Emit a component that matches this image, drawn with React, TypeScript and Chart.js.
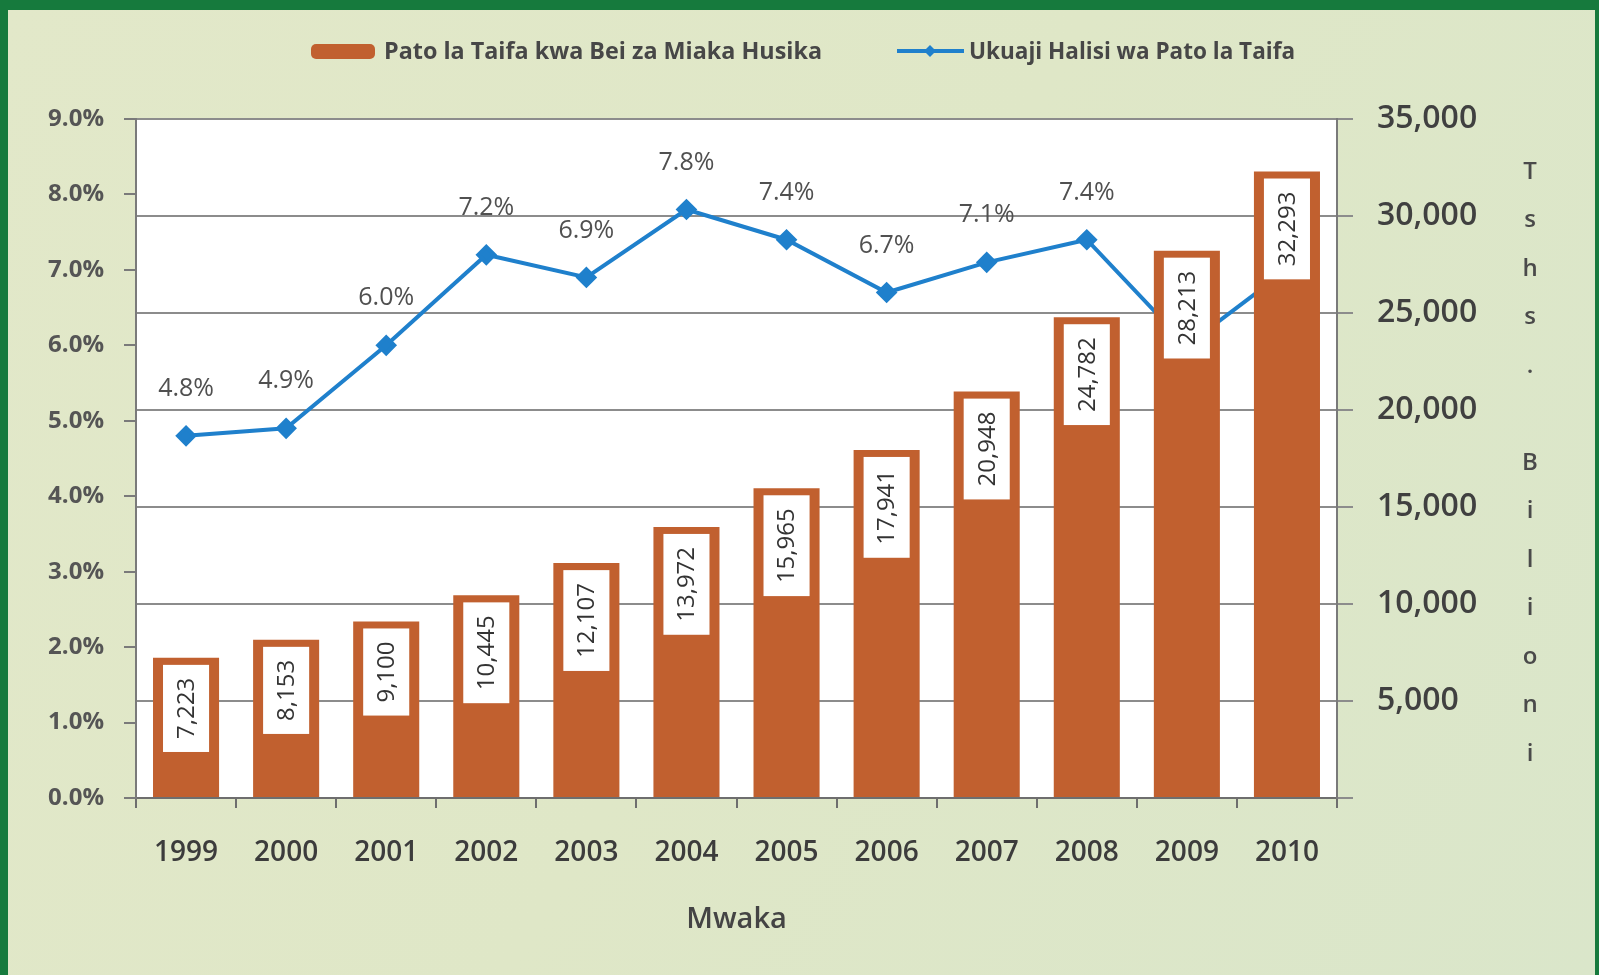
import React, { useEffect, useRef } from "react";
import { Chart, registerables } from "chart.js";

Chart.register(...registerables);

const years = ["1999", "2000", "2001", "2002", "2003", "2004", "2005", "2006", "2007", "2008", "2009", "2010"];
const gdpCurrentPrices = [7223, 8153, 9100, 10445, 12107, 13972, 15965, 17941, 20948, 24782, 28213, 32293];
const realGrowth = [4.8, 4.9, 6.0, 7.2, 6.9, 7.8, 7.4, 6.7, 7.1, 7.4, 6.0, 7.0];
const growthLabelVisible = [true, true, true, true, true, true, true, true, true, true, false, false];
const leftAxisMax = 9;
const leftAxisStep = 1;
const rightAxisMax = 35000;
const rightAxisStep = 5000;
const barSeriesName = "Pato la Taifa kwa Bei za Miaka Husika";
const lineSeriesName = "Ukuaji Halisi wa Pato la Taifa";
const xAxisTitle = "Mwaka";
const rightAxisTitle = "Tshs. Bilioni";

const FONT = '"Open Sans", "Noto Sans", sans-serif';
const BAR_COLOR = "#c1602f";
const LINE_COLOR = "#1f80cc";
const TEXT = "#474747";

const backgroundPlugin = {
  id: "bgPlugin",
  beforeDraw(chart: any) {
    const { ctx, width, height, chartArea } = chart;
    ctx.save();
    const g = ctx.createLinearGradient(0, 0, width, height);
    g.addColorStop(0, "#e2e8c9");
    g.addColorStop(0.5, "#dfe7c7");
    g.addColorStop(1, "#dae6ca");
    ctx.fillStyle = g;
    ctx.fillRect(0, 0, width, height);
    ctx.fillStyle = "#167a3d";
    ctx.fillRect(0, 0, width, 10);
    ctx.fillRect(0, 0, 8, height);
    ctx.fillRect(width - 4, 0, 4, height);
    ctx.fillStyle = "#ffffff";
    ctx.fillRect(chartArea.left, chartArea.top, chartArea.right - chartArea.left, chartArea.bottom - chartArea.top);
    ctx.restore();
  },
};

const barLabelPlugin = {
  id: "barLabelPlugin",
  afterDatasetsDraw(chart: any) {
    const meta = chart.getDatasetMeta(0);
    const values = chart.data.datasets[0].data as number[];
    const ctx = chart.ctx;
    ctx.save();
    ctx.font = `400 24px ${FONT}`;
    meta.data.forEach((el: any, i: number) => {
      const { x, y, width } = el.getProps(["x", "y", "width"], true);
      const text = values[i].toLocaleString("en-US");
      const tw = ctx.measureText(text).width;
      const bw = width - 20;
      const bh = tw + 26;
      const top = y + 7;
      ctx.fillStyle = "#ffffff";
      ctx.fillRect(x - bw / 2, top, bw, bh);
      ctx.save();
      ctx.translate(x, top + bh / 2);
      ctx.rotate(-Math.PI / 2);
      ctx.fillStyle = "#333333";
      ctx.textAlign = "center";
      ctx.textBaseline = "middle";
      ctx.fillText(text, 0, 1);
      ctx.restore();
    });
    ctx.restore();
  },
};

const pointLabelPlugin = {
  id: "pointLabelPlugin",
  afterDraw(chart: any) {
    const meta = chart.getDatasetMeta(1);
    const values = chart.data.datasets[1].data as number[];
    const ctx = chart.ctx;
    ctx.save();
    ctx.font = `400 25px ${FONT}`;
    ctx.fillStyle = "#505050";
    ctx.textAlign = "center";
    ctx.textBaseline = "middle";
    meta.data.forEach((el: any, i: number) => {
      if (!growthLabelVisible[i]) return;
      const { x, y } = el.getProps(["x", "y"], true);
      ctx.fillText(values[i].toFixed(1) + "%", x, y - 47);
    });
    ctx.restore();
  },
};

function fitText(ctx: any, text: string, x: number, y: number, targetWidth: number) {
  const w = ctx.measureText(text).width;
  const s = targetWidth / w;
  ctx.save();
  ctx.translate(x, y);
  ctx.scale(s, 1);
  ctx.fillText(text, 0, 0);
  ctx.restore();
}

const legendPlugin = {
  id: "customLegend",
  afterDraw(chart: any) {
    const ctx = chart.ctx;
    const ds = chart.data.datasets;
    ctx.save();
    ctx.fillStyle = ds[0].backgroundColor;
    ctx.beginPath();
    (ctx as any).roundRect(311, 44, 64, 15, 5);
    ctx.fill();
    ctx.font = `700 23px ${FONT}`;
    ctx.fillStyle = TEXT;
    ctx.textAlign = "left";
    ctx.textBaseline = "middle";
    fitText(ctx, ds[0].label, 384, 52, 438);
    ctx.strokeStyle = ds[1].borderColor;
    ctx.lineWidth = 4;
    ctx.beginPath();
    ctx.moveTo(897, 51);
    ctx.lineTo(964, 51);
    ctx.stroke();
    ctx.fillStyle = ds[1].borderColor;
    ctx.beginPath();
    ctx.moveTo(930, 45);
    ctx.lineTo(936, 51);
    ctx.lineTo(930, 57);
    ctx.lineTo(924, 51);
    ctx.closePath();
    ctx.fill();
    ctx.fillStyle = TEXT;
    fitText(ctx, ds[1].label, 969, 52, 326);
    ctx.restore();
  },
};

const rightTitlePlugin = {
  id: "rightTitle",
  afterDraw(chart: any) {
    const ctx = chart.ctx;
    ctx.save();
    ctx.font = `600 24px ${FONT}`;
    ctx.fillStyle = "#4a4a4a";
    ctx.textAlign = "center";
    ctx.textBaseline = "middle";
    const letters = rightAxisTitle.split("");
    letters.forEach((ch, i) => {
      ctx.fillText(ch, 1530, 172 + i * 48.5);
    });
    ctx.restore();
  },
};

export default function App() {
  const canvasRef = useRef<HTMLCanvasElement | null>(null);

  useEffect(() => {
    document.body.style.margin = "0";
    document.body.style.overflow = "hidden";
    const canvas = canvasRef.current;
    if (!canvas) return;
    const chart = new Chart(canvas, {
      type: "bar",
      data: {
        labels: years,
        datasets: [
          {
            type: "bar",
            label: barSeriesName,
            data: gdpCurrentPrices,
            backgroundColor: BAR_COLOR,
            borderWidth: 0,
            yAxisID: "y1",
            order: 0,
            categoryPercentage: 1,
            barPercentage: 0.66,
          } as any,
          {
            type: "line",
            label: lineSeriesName,
            data: realGrowth,
            borderColor: LINE_COLOR,
            backgroundColor: LINE_COLOR,
            borderWidth: 4,
            pointStyle: "rectRot",
            pointRadius: 8,
            pointBackgroundColor: LINE_COLOR,
            pointBorderColor: LINE_COLOR,
            yAxisID: "y",
            order: 1,
            tension: 0,
          } as any,
        ],
      },
      options: {
        responsive: false,
        animation: false,
        layout: { padding: { top: 119, left: 0, right: 0, bottom: 0 } },
        plugins: {
          legend: { display: false },
          tooltip: { enabled: false },
        },
        scales: {
          x: {
            offset: true,
            grid: {
              display: true,
              drawOnChartArea: false,
              offset: true,
              tickLength: 10,
              color: "#6e6e6e",
              lineWidth: 2,
            },
            border: { display: true, color: "#6e6e6e", width: 2 },
            ticks: {
              font: { family: FONT, size: 28, weight: "600" },
              color: "#3c3c3c",
              padding: 28,
              maxRotation: 0,
            },
            title: {
              display: true,
              text: xAxisTitle,
              font: { family: FONT, size: 29, weight: "600" },
              color: "#444444",
              padding: { top: 0, bottom: 38 },
            },
            afterFit(scale: any) {
              scale.height = 177;
            },
          },
          y: {
            position: "left",
            min: 0,
            max: leftAxisMax,
            grid: {
              drawOnChartArea: false,
              tickLength: 12,
              color: "#7a7a7a",
              lineWidth: 2,
            },
            border: { display: true, color: "#7a7a7a", width: 2 },
            ticks: {
              stepSize: leftAxisStep,
              padding: 20,
              font: { family: FONT, size: 24, weight: "700" },
              color: "#555555",
              callback: (v: any) => Number(v).toFixed(1) + "%",
            },
            afterFit(scale: any) {
              scale.width = 136;
            },
          },
          y1: {
            position: "right",
            min: 0,
            max: rightAxisMax,
            grid: {
              drawOnChartArea: true,
              tickLength: 16,
              color: "#8c8c8c",
              lineWidth: 2,
            },
            border: { display: true, color: "#7a7a7a", width: 2 },
            ticks: {
              stepSize: rightAxisStep,
              padding: 24,
              font: { family: FONT, size: 32, weight: "600" },
              color: "#404040",
              callback: (v: any) => (Number(v) === 0 ? "" : Number(v).toLocaleString("en-US")),
            },
            afterFit(scale: any) {
              scale.width = 262;
            },
          },
        },
      } as any,
      plugins: [backgroundPlugin, barLabelPlugin, pointLabelPlugin, legendPlugin, rightTitlePlugin],
    });
    return () => chart.destroy();
  }, []);

  return (
    <div style={{ width: 1599, height: 975 }}>
      <canvas ref={canvasRef} width={1599} height={975} style={{ display: "block" }} />
    </div>
  );
}
